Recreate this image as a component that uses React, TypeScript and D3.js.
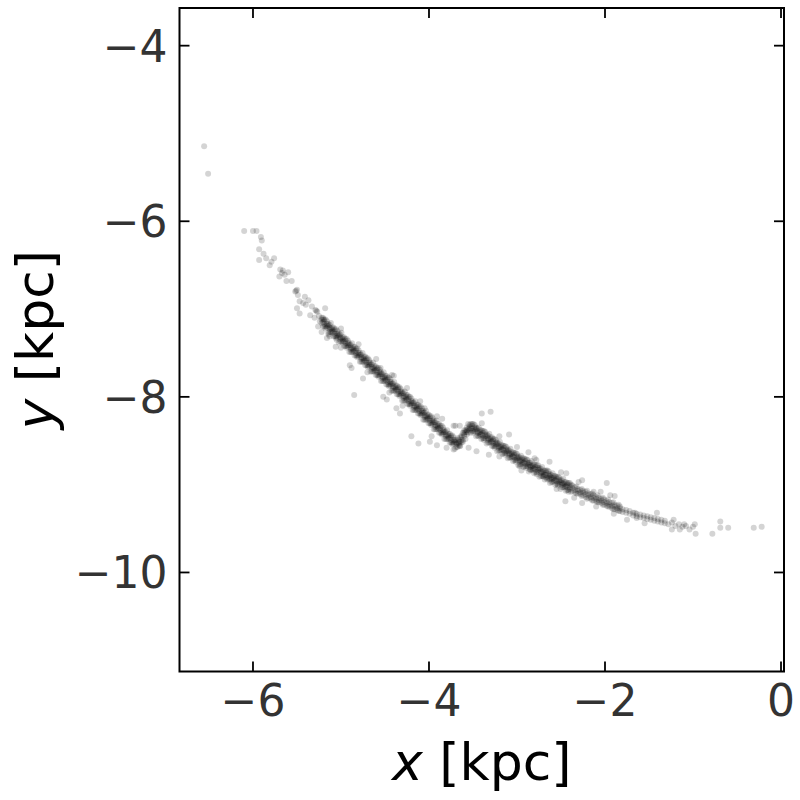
import * as d3 from 'd3';

// Axis setup
const xTicks = [-6, -4, -2, 0];
const yTicks = [-10, -8, -6, -4];
const xDomain: [number, number] = [-6.835, 0.034];
const yDomain: [number, number] = [-11.128, -3.571];

// Sparse leading arm (upper left), individual particles
const leadingPoints: [number, number][] = [
  [-6.555, -5.145], [-6.51, -5.46],
  [-6.10, -6.11], [-6.00, -6.11], [-5.96, -6.11], [-5.91, -6.18], [-5.90, -6.22], [-5.93, -6.32],
  [-5.88, -6.37], [-5.85, -6.42], [-5.93, -6.44], [-5.79, -6.46], [-5.76, -6.42], [-5.81, -6.50],
  [-5.69, -6.55], [-5.67, -6.59], [-5.66, -6.56], [-5.60, -6.58], [-5.70, -6.63], [-5.62, -6.68],
  [-5.56, -6.68], [-5.64, -6.61], [-5.52, -6.80], [-5.50, -6.78], [-5.49, -6.84], [-5.51, -6.79],
  [-5.41, -6.86], [-5.37, -6.90], [-5.47, -6.91], [-5.43, -6.93], [-5.50, -6.99], [-5.47, -7.05],
  [-5.33, -6.97], [-5.28, -7.02], [-5.29, -7.01], [-5.27, -7.03], [-5.18, -6.99], [-5.35, -7.07],
  [-5.30, -7.10], [-5.24, -7.14], [-5.20, -7.12], [-5.26, -7.20], [-5.14, -7.29], [-5.22, -7.26],
  [-5.13, -7.31], [-5.05, -7.35], [-5.16, -7.33], [-5.25, -7.08], [-5.40, -6.95],
];

// Dense core of the stream: each row is [x, y, y, ...]
const coreColumns: number[][] = [
  [-5.22, -7.16, -7.12, -7.10],
  [-5.19, -7.20, -7.17, -7.14, -7.12],
  [-5.16, -7.21, -7.19, -7.17, -7.14],
  [-5.13, -7.26, -7.23, -7.21, -7.18],
  [-5.10, -7.27, -7.25, -7.23, -7.21],
  [-5.07, -7.31, -7.28, -7.25, -7.23],
  [-5.04, -7.32, -7.30, -7.28, -7.25],
  [-5.01, -7.37, -7.34, -7.32, -7.29],
  [-4.98, -7.38, -7.36, -7.34, -7.32],
  [-4.95, -7.42, -7.39, -7.36, -7.34],
  [-4.92, -7.43, -7.41, -7.39, -7.36],
  [-4.89, -7.49, -7.46, -7.44, -7.41],
  [-4.86, -7.49, -7.47, -7.45, -7.43],
  [-4.83, -7.53, -7.50, -7.47, -7.45],
  [-4.80, -7.54, -7.52, -7.50, -7.47],
  [-4.77, -7.60, -7.57, -7.55, -7.52],
  [-4.74, -7.60, -7.58, -7.56, -7.54],
  [-4.71, -7.64, -7.61, -7.58, -7.56],
  [-4.68, -7.65, -7.63, -7.61, -7.58],
  [-4.65, -7.71, -7.68, -7.66, -7.63],
  [-4.62, -7.71, -7.69, -7.67, -7.65],
  [-4.59, -7.75, -7.72, -7.69, -7.67],
  [-4.56, -7.76, -7.74, -7.72, -7.69],
  [-4.53, -7.82, -7.79, -7.77, -7.74],
  [-4.50, -7.82, -7.80, -7.78, -7.76],
  [-4.47, -7.86, -7.83, -7.80, -7.78],
  [-4.44, -7.87, -7.85, -7.83, -7.80],
  [-4.41, -7.93, -7.90, -7.88, -7.85],
  [-4.38, -7.93, -7.91, -7.89, -7.87],
  [-4.35, -7.97, -7.94, -7.91, -7.89],
  [-4.32, -7.98, -7.96, -7.94, -7.91],
  [-4.29, -8.04, -8.01, -7.99, -7.96],
  [-4.26, -8.04, -8.02, -8.00, -7.98],
  [-4.23, -8.08, -8.05, -8.02, -8.00],
  [-4.20, -8.09, -8.07, -8.05, -8.02],
  [-4.17, -8.15, -8.12, -8.10, -8.07],
  [-4.14, -8.15, -8.13, -8.11, -8.09],
  [-4.11, -8.19, -8.16, -8.13, -8.11],
  [-4.08, -8.20, -8.18, -8.16, -8.13],
  [-4.05, -8.26, -8.23, -8.21, -8.18],
  [-4.02, -8.26, -8.24, -8.22, -8.20],
  [-3.99, -8.30, -8.27, -8.24, -8.22],
  [-3.96, -8.31, -8.29, -8.27, -8.24],
  [-3.93, -8.37, -8.34, -8.32, -8.29],
  [-3.90, -8.37, -8.35, -8.33, -8.31],
  [-3.87, -8.41, -8.38, -8.35, -8.33],
  [-3.84, -8.42, -8.40, -8.38, -8.35],
  [-3.81, -8.48, -8.45, -8.43, -8.40],
  [-3.78, -8.48, -8.46, -8.44, -8.42],
  [-3.75, -8.52, -8.49, -8.46, -8.44],
  [-3.72, -8.53, -8.51, -8.49, -8.46],
  [-3.69, -8.57, -8.54, -8.52, -8.49],
  [-3.66, -8.55, -8.53, -8.51, -8.49],
  [-3.63, -8.52, -8.49, -8.46, -8.44],
  [-3.60, -8.45, -8.43, -8.41, -8.38],
  [-3.57, -8.43, -8.40, -8.38, -8.35],
  [-3.54, -8.38, -8.36, -8.34, -8.32],
  [-3.51, -8.39, -8.36, -8.33, -8.31],
  [-3.48, -8.39, -8.37, -8.35, -8.32],
  [-3.45, -8.44, -8.41, -8.39, -8.36],
  [-3.42, -8.44, -8.42, -8.40, -8.38],
  [-3.39, -8.47, -8.44, -8.41, -8.39],
  [-3.36, -8.47, -8.45, -8.43, -8.40],
  [-3.33, -8.52, -8.49, -8.47, -8.44],
  [-3.30, -8.52, -8.50, -8.48, -8.46],
  [-3.27, -8.56, -8.53, -8.50, -8.48],
  [-3.24, -8.56, -8.54, -8.52, -8.49],
  [-3.21, -8.61, -8.58, -8.56, -8.53],
  [-3.18, -8.61, -8.59, -8.57, -8.55],
  [-3.15, -8.64, -8.61, -8.58, -8.56],
  [-3.12, -8.64, -8.62, -8.60, -8.57],
  [-3.09, -8.69, -8.66, -8.64, -8.61],
  [-3.06, -8.69, -8.67, -8.65, -8.63],
  [-3.03, -8.72, -8.69, -8.66, -8.64],
  [-3.00, -8.72, -8.70, -8.68, -8.65],
  [-2.97, -8.77, -8.74, -8.72, -8.69],
  [-2.94, -8.76, -8.74, -8.72, -8.70],
  [-2.91, -8.79, -8.76, -8.73, -8.71],
  [-2.88, -8.79, -8.77, -8.75, -8.72],
  [-2.85, -8.83, -8.80, -8.78, -8.75],
  [-2.82, -8.83, -8.81, -8.79, -8.77],
  [-2.79, -8.86, -8.83, -8.80, -8.78],
  [-2.76, -8.85, -8.83, -8.81, -8.78],
  [-2.73, -8.90, -8.87, -8.85, -8.82],
  [-2.70, -8.90, -8.88, -8.86, -8.84],
  [-2.67, -8.92, -8.89, -8.86, -8.84],
  [-2.64, -8.92, -8.90, -8.88, -8.85],
  [-2.61, -8.97, -8.94, -8.92, -8.89],
  [-2.58, -8.96, -8.94, -8.92, -8.90],
  [-2.55, -8.99, -8.96, -8.93, -8.91],
  [-2.52, -8.99, -8.97, -8.95, -8.92],
  [-2.49, -9.03, -9.00, -8.98, -8.95],
  [-2.46, -9.03, -9.01, -8.99, -8.97],
  [-2.43, -9.06, -9.03, -9.00, -8.98],
  [-2.40, -9.05, -9.03, -9.01, -8.98],
  [-2.37, -9.07, -9.04, -9.01],
  [-2.34, -9.09, -9.06, -9.03],
  [-2.31, -9.10, -9.07, -9.05],
  [-2.28, -9.11, -9.09, -9.06],
  [-2.25, -9.12, -9.09, -9.07],
  [-2.22, -9.14, -9.11, -9.08],
  [-2.19, -9.15, -9.12, -9.10],
  [-2.16, -9.16, -9.14, -9.11],
  [-2.13, -9.18, -9.15, -9.12],
  [-2.10, -9.19, -9.16, -9.14],
  [-2.07, -9.20, -9.18, -9.15],
  [-2.04, -9.21, -9.18, -9.16],
  [-2.01, -9.23, -9.20, -9.17],
  [-1.98, -9.24, -9.21, -9.19],
  [-1.95, -9.25, -9.23, -9.20],
  [-1.92, -9.27, -9.24, -9.21],
  [-1.89, -9.28, -9.25, -9.23],
  [-1.86, -9.29, -9.27, -9.24],
  [-1.83, -9.30, -9.27, -9.25],
  [-1.80, -9.31, -9.28],
  [-1.76, -9.32, -9.29],
  [-1.72, -9.33, -9.30],
  [-1.68, -9.35, -9.32],
  [-1.64, -9.36, -9.33],
  [-1.60, -9.37, -9.34],
  [-1.56, -9.38, -9.35],
  [-1.52, -9.39, -9.36],
  [-1.48, -9.40, -9.37],
  [-1.44, -9.41, -9.38],
  [-1.40, -9.42, -9.39],
  [-1.36, -9.43, -9.40],
  [-1.32, -9.44, -9.41],
  [-1.28, -9.45],
  [-1.24, -9.43],
  [-1.20, -9.47],
  [-1.16, -9.45],
  [-1.12, -9.48],
  [-1.08, -9.47],
  [-1.04, -9.51],
  [-1.00, -9.48],
];

// Wider fringe of the core, read between the rows above: [x, y, y, ...]
const fringeColumns: number[][] = [
  [-5.205, -7.20, -7.15, -7.10], [-5.175, -7.22, -7.20, -7.12], [-5.145, -7.27, -7.19, -7.17],
  [-5.115, -7.26, -7.22, -7.16], [-5.085, -7.31, -7.26, -7.21], [-5.055, -7.33, -7.31, -7.23],
  [-5.025, -7.38, -7.30, -7.28], [-4.995, -7.37, -7.33, -7.27], [-4.965, -7.42, -7.37, -7.32],
  [-4.935, -7.44, -7.42, -7.34], [-4.905, -7.49, -7.41, -7.39], [-4.875, -7.49, -7.45, -7.39],
  [-4.845, -7.53, -7.48, -7.43], [-4.815, -7.55, -7.53, -7.45], [-4.785, -7.60, -7.52, -7.50],
  [-4.755, -7.60, -7.56, -7.50], [-4.725, -7.64, -7.59, -7.54], [-4.695, -7.66, -7.64, -7.56],
  [-4.665, -7.71, -7.63, -7.61], [-4.635, -7.71, -7.67, -7.61], [-4.605, -7.75, -7.70, -7.65],
  [-4.575, -7.77, -7.75, -7.67], [-4.545, -7.82, -7.74, -7.72], [-4.515, -7.82, -7.78, -7.72],
  [-4.485, -7.86, -7.81, -7.76], [-4.455, -7.88, -7.86, -7.78], [-4.425, -7.93, -7.85, -7.83],
  [-4.395, -7.93, -7.89, -7.83], [-4.365, -7.97, -7.92, -7.87], [-4.335, -7.99, -7.97, -7.89],
  [-4.305, -8.04, -7.96, -7.94], [-4.275, -8.04, -8.00, -7.94], [-4.245, -8.08, -8.03, -7.98],
  [-4.215, -8.10, -8.08, -8.00], [-4.185, -8.15, -8.07, -8.05], [-4.155, -8.15, -8.11, -8.05],
  [-4.125, -8.19, -8.14, -8.09], [-4.095, -8.21, -8.19, -8.11], [-4.065, -8.26, -8.18, -8.16],
  [-4.035, -8.26, -8.22, -8.16], [-4.005, -8.30, -8.25, -8.20], [-3.975, -8.32, -8.30, -8.22],
  [-3.945, -8.37, -8.29, -8.27], [-3.915, -8.37, -8.33, -8.27], [-3.885, -8.41, -8.36, -8.31],
  [-3.855, -8.43, -8.41, -8.33], [-3.825, -8.48, -8.40, -8.38], [-3.795, -8.48, -8.44, -8.38],
  [-3.765, -8.52, -8.47, -8.42], [-3.735, -8.54, -8.52, -8.44], [-3.705, -8.59, -8.51, -8.49],
  [-3.675, -8.57, -8.53, -8.47], [-3.645, -8.56, -8.51, -8.46], [-3.615, -8.51, -8.49, -8.41],
  [-3.585, -8.48, -8.40, -8.38], [-3.555, -8.41, -8.37, -8.31], [-3.525, -8.41, -8.36, -8.31],
  [-3.495, -8.41, -8.39, -8.31], [-3.465, -8.45, -8.37, -8.35], [-3.435, -8.45, -8.41, -8.35],
  [-3.405, -8.48, -8.43, -8.38], [-3.375, -8.49, -8.47, -8.39], [-3.345, -8.53, -8.45, -8.43],
  [-3.315, -8.52, -8.48, -8.42], [-3.285, -8.56, -8.51, -8.46], [-3.255, -8.58, -8.56, -8.48],
  [-3.225, -8.62, -8.54, -8.52], [-3.195, -8.61, -8.57, -8.51], [-3.165, -8.65, -8.60, -8.55],
  [-3.135, -8.66, -8.64, -8.56], [-3.105, -8.70, -8.62, -8.60], [-3.075, -8.69, -8.65, -8.59],
  [-3.045, -8.73, -8.68, -8.63], [-3.015, -8.74, -8.72, -8.64], [-2.985, -8.78, -8.70, -8.68],
  [-2.955, -8.77, -8.73, -8.67], [-2.925, -8.80, -8.75, -8.70], [-2.895, -8.81, -8.79, -8.71],
  [-2.865, -8.85, -8.77, -8.75], [-2.835, -8.83, -8.79, -8.73], [-2.805, -8.87, -8.82, -8.77],
  [-2.775, -8.88, -8.86, -8.78], [-2.745, -8.91, -8.83, -8.81], [-2.715, -8.90, -8.86, -8.80],
  [-2.685, -8.94, -8.89, -8.84], [-2.655, -8.94, -8.92, -8.84], [-2.625, -8.98, -8.90, -8.88],
  [-2.595, -8.97, -8.93, -8.87], [-2.565, -9.00, -8.95, -8.90], [-2.535, -9.01, -8.99, -8.91],
  [-2.505, -9.05, -8.97, -8.95], [-2.475, -9.03, -8.99, -8.93], [-2.445, -9.07, -9.02, -8.97],
  [-2.415, -9.08, -9.06, -8.98],
  [-2.385, -9.08, -9.00], [-2.325, -9.10, -9.02], [-2.265, -9.13, -9.05], [-2.205, -9.16, -9.07],
  [-2.145, -9.18, -9.10], [-2.085, -9.20, -9.12], [-2.025, -9.23, -9.15], [-1.965, -9.25, -9.17],
  [-1.905, -9.28, -9.20], [-1.845, -9.30, -9.23],
];

// Loose particles scattered around the core
const haloPoints: [number, number][] = [
  [-5.06, -7.43], [-4.88, -7.67], [-4.90, -7.64], [-4.75, -7.79], [-4.52, -8.00], [-4.48, -8.03],
  [-4.33, -8.19], [-4.37, -8.13], [-4.85, -7.98], [-4.10, -8.05], [-4.05, -8.13], [-3.91, -8.22],
  [-3.72, -8.33], [-3.65, -8.33], [-4.55, -7.67], [-4.42, -7.75], [-4.20, -8.45], [-4.12, -8.53],
  [-3.99, -8.51], [-3.97, -8.45], [-3.91, -8.55], [-3.80, -8.58], [-3.72, -8.60], [-3.65, -8.56],
  [-3.55, -8.58], [-3.70, -8.33], [-3.40, -8.30], [-3.40, -8.19], [-3.30, -8.17], [-3.46, -8.62],
  [-3.32, -8.66], [-3.09, -8.43], [-2.87, -8.63], [-2.78, -8.72], [-2.63, -8.74], [-2.97, -8.79],
  [-2.85, -8.83], [-2.70, -8.91], [-2.63, -8.94], [-2.44, -8.87], [-1.98, -8.98], [-2.45, -9.19],
  [-2.26, -9.21], [-2.26, -8.95], [-1.94, -9.12], [-1.89, -9.13], [-2.13, -9.08], [-1.64, -9.38],
  [-1.66, -9.32], [-1.41, -9.32],
  [-5.00, -7.22], [-4.80, -7.40], [-4.60, -7.57], [-4.40, -7.76], [-4.25, -7.90], [-3.85, -8.25],
  [-3.20, -8.45], [-3.00, -8.57], [-2.80, -8.70], [-2.50, -8.86], [-2.30, -8.97], [-2.05, -9.08],
  [-5.00, -7.44], [-4.70, -7.72], [-4.45, -7.95], [-4.30, -8.10], [-3.20, -8.68], [-2.95, -8.84],
  [-2.55, -9.05], [-2.35, -9.15], [-2.10, -9.25], [-1.90, -9.33], [-1.75, -9.40], [-1.55, -9.44],
];

// Thin trailing tail (lower right)
const tailPoints: [number, number][] = [
  [-1.22, -9.40], [-1.24, -9.51], [-1.15, -9.51], [-1.10, -9.45], [-0.98, -9.45], [-0.97, -9.56],
  [-0.78, -9.56], [-0.69, -9.42], [-0.69, -9.49], [-0.60, -9.49], [-0.31, -9.49], [-0.22, -9.48],
];

const W = 800, H = 800;
const PLOT = { l: 179.5, r: 784, t: 8, b: 671.5 };
const FONT = 'DejaVu Sans, sans-serif';
const fmt = (v: number) => (v < 0 ? '\u2212' + Math.abs(v) : String(v));

const flattenColumns = (cols: number[][]) =>
  cols.flatMap(row => row.slice(1).map(v => [row[0], v] as [number, number]));

export default function App() {
  const x = d3.scaleLinear().domain(xDomain).range([PLOT.l, PLOT.r]);
  const y = d3.scaleLinear().domain(yDomain).range([PLOT.b, PLOT.t]);

  const points = [
    ...leadingPoints,
    ...flattenColumns(coreColumns),
    ...flattenColumns(fringeColumns),
    ...haloPoints,
    ...tailPoints,
  ];

  const tickLen = 10;

  return (
    <div style={{ position: 'absolute', left: 0, top: 0 }}>
      <svg width={W} height={H} style={{ display: 'block', background: '#fff' }} fontFamily={FONT}>
        <defs>
          <clipPath id="plot-clip">
            <rect x={PLOT.l} y={PLOT.t} width={PLOT.r - PLOT.l} height={PLOT.b - PLOT.t} />
          </clipPath>
        </defs>

        {/* particles */}
        <g clipPath="url(#plot-clip)">
          {points.map((p, i) => (
            <circle key={i} cx={x(p[0])} cy={y(p[1])} r={3} fill="#000" fillOpacity={0.17} />
          ))}
        </g>

        {/* ticks, inward on all four sides */}
        <g stroke="#000" strokeWidth={1.8}>
          {xTicks.map(t => (
            <g key={'xt' + t}>
              <line x1={x(t)} x2={x(t)} y1={PLOT.b} y2={PLOT.b - tickLen} />
              <line x1={x(t)} x2={x(t)} y1={PLOT.t} y2={PLOT.t + tickLen} />
            </g>
          ))}
          {yTicks.map(t => (
            <g key={'yt' + t}>
              <line x1={PLOT.l} x2={PLOT.l + tickLen} y1={y(t)} y2={y(t)} />
              <line x1={PLOT.r} x2={PLOT.r - tickLen} y1={y(t)} y2={y(t)} />
            </g>
          ))}
        </g>

        {/* frame */}
        <rect x={PLOT.l} y={PLOT.t} width={PLOT.r - PLOT.l} height={PLOT.b - PLOT.t}
          fill="none" stroke="#000" strokeWidth={2} />

        {/* tick labels */}
        <g fill="#333" fontSize={44}>
          {xTicks.map(t => (
            <text key={'xl' + t} x={x(t)} y={PLOT.b + 44} textAnchor="middle">{fmt(t)}</text>
          ))}
          {yTicks.map(t => (
            <text key={'yl' + t} x={PLOT.l - 12} y={y(t) + 16} textAnchor="end">{fmt(t)}</text>
          ))}
        </g>

        {/* axis labels */}
        <text x={(PLOT.l + PLOT.r) / 2} y={780} textAnchor="middle" fontSize={52} fill="#000">
          <tspan fontStyle="italic">x</tspan> [kpc]
        </text>
        <text transform={`translate(53, ${(PLOT.t + PLOT.b) / 2}) rotate(-90)`} textAnchor="middle"
          fontSize={52} fill="#000">
          <tspan fontStyle="italic">y</tspan> [kpc]
        </text>
      </svg>
    </div>
  );
}
